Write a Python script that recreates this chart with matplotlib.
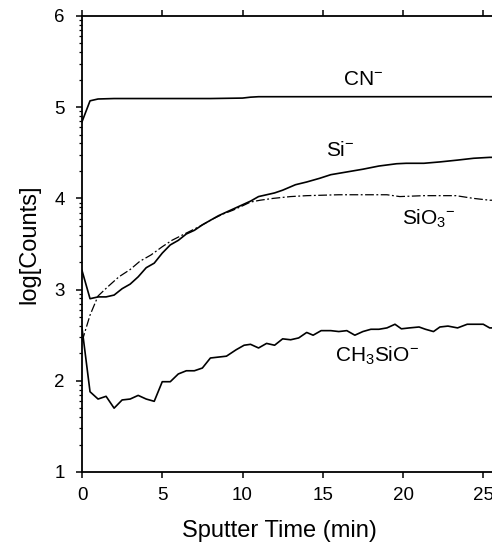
import numpy as np
import matplotlib
matplotlib.use('agg')
import matplotlib.pyplot as plt
from matplotlib.ticker import FixedLocator

plt.rcParams['font.family'] = ['Liberation Sans', 'DejaVu Sans']
plt.rcParams['mathtext.fontset'] = 'custom'
plt.rcParams['mathtext.rm'] = 'Liberation Sans'
plt.rcParams['mathtext.it'] = 'Liberation Sans:italic'

# CN-
cn_t = [0, 0.5, 1, 2, 4, 6, 8, 10, 10.5, 11, 13, 15, 17, 19, 21, 23, 25, 26]
cn_v = [4.84, 5.07, 5.09, 5.095, 5.095, 5.095, 5.095, 5.10, 5.11, 5.115,
        5.115, 5.115, 5.115, 5.115, 5.115, 5.115, 5.115, 5.115]

# Si-
si_t = [0, 0.5, 1, 1.5, 2, 2.5, 3, 3.5, 4, 4.5, 5, 5.5, 6, 6.5, 7, 7.5, 8,
        8.5, 9, 9.5, 10, 10.5, 11, 12, 12.5, 13.3, 14, 14.8, 15.5, 16.5,
        17.5, 18.5, 19.6, 20.2, 21.3, 22.3, 23.4, 24.4, 25.4, 26]
si_v = [3.21, 2.90, 2.92, 2.92, 2.94, 3.01, 3.06, 3.14, 3.24, 3.29, 3.40,
        3.49, 3.54, 3.61, 3.65, 3.71, 3.76, 3.81, 3.85, 3.89, 3.93, 3.97,
        4.02, 4.06, 4.09, 4.15, 4.18, 4.22, 4.26, 4.29, 4.32, 4.355, 4.38,
        4.385, 4.385, 4.40, 4.42, 4.44, 4.45, 4.45]

# SiO3-
sio3_t = [0, 0.5, 1, 1.6, 2.3, 3, 3.6, 4.3, 5, 5.6, 6.5, 7.3, 8.1, 8.8,
          9.4, 9.9, 10.5, 11.1, 11.9, 13, 14, 16, 18, 19, 19.8, 21.3, 23.3,
          24.4, 25.4, 26]
sio3_v = [2.43, 2.72, 2.93, 3.03, 3.14, 3.22, 3.31, 3.38, 3.47, 3.54, 3.62,
          3.69, 3.77, 3.83, 3.87, 3.91, 3.96, 3.98, 4.00, 4.02, 4.03, 4.04,
          4.04, 4.04, 4.02, 4.03, 4.03, 4.00, 3.98, 3.98]

# CH3SiO-
ch_t = [0, 0.5, 1, 1.5, 2, 2.5, 3, 3.5, 4, 4.5, 5, 5.5, 6, 6.5, 7, 7.5, 8,
        8.5, 9, 9.6, 10.1, 10.5, 11, 11.5, 12, 12.5, 13, 13.5, 14, 14.4,
        14.9, 15.5, 16, 16.5, 17, 17.5, 18, 18.5, 19, 19.5, 19.9, 20.4, 21,
        21.4, 21.9, 22.3, 22.8, 23.4, 24, 24.5, 25, 25.4, 26]
ch_v = [2.58, 1.88, 1.80, 1.83, 1.70, 1.79, 1.80, 1.84, 1.80, 1.775, 1.99,
        1.99, 2.075, 2.11, 2.11, 2.14, 2.25, 2.26, 2.27, 2.34, 2.39, 2.40,
        2.36, 2.41, 2.39, 2.46, 2.45, 2.47, 2.53, 2.50, 2.55, 2.55, 2.54,
        2.55, 2.50, 2.54, 2.565, 2.565, 2.58, 2.62, 2.57, 2.58, 2.59, 2.565,
        2.54, 2.59, 2.60, 2.58, 2.62, 2.62, 2.62, 2.58, 2.58]

fig = plt.figure(figsize=(4.92, 5.44), dpi=100)
ax = fig.add_axes([82 / 492, 72 / 544, 26 * 16.05 / 492, 456 / 544])

lw = 1.2
ax.plot(cn_t, cn_v, color='black', lw=lw)
ax.plot(si_t, si_v, color='black', lw=lw)
ax.plot(sio3_t, sio3_v, color='black', lw=0.9, ls=(0, (7, 2, 1.5, 2)))
ax.plot(ch_t, ch_v, color='black', lw=lw)

ax.set_xlim(0, 26)
ax.set_ylim(1, 6)
ax.set_xticks([0, 5, 10, 15, 20, 25])
ax.set_yticks([1, 2, 3, 4, 5, 6])
minor = [n + np.log10(k) for n in range(1, 6) for k in range(2, 10)]
ax.yaxis.set_minor_locator(FixedLocator(minor))

ax.tick_params(axis='both', which='major', direction='out', length=4,
               width=1.1, labelsize=13.5, color='black')
ax.tick_params(axis='y', which='major', pad=8.5)
ax.tick_params(axis='x', which='major', pad=6.5)
ax.tick_params(axis='y', which='minor', direction='out', length=2.5, width=0.9)
ax.tick_params(axis='x', top=True)
ax.spines['right'].set_visible(False)
for s in ['left', 'bottom', 'top']:
    ax.spines[s].set_linewidth(1.3)

ax.set_ylabel('log[Counts]', fontsize=17, labelpad=10)
fig.text(279 / 492, 1 - 531 / 544, 'Sputter Time (min)', fontsize=17,
         ha='center', va='center')

ax.text(17.5, 5.30, r'CN$^{-}$', fontsize=15, ha='center', va='center')
ax.text(16.1, 4.52, r'Si$^{-}$', fontsize=15, ha='center', va='center')
ax.text(21.6, 3.78, r'SiO$_3$$^{-}$', fontsize=15, ha='center', va='center')
ax.text(18.4, 2.27, r'CH$_3$SiO$^{-}$', fontsize=15, ha='center', va='center')

fig.savefig('out.png', dpi=100)
